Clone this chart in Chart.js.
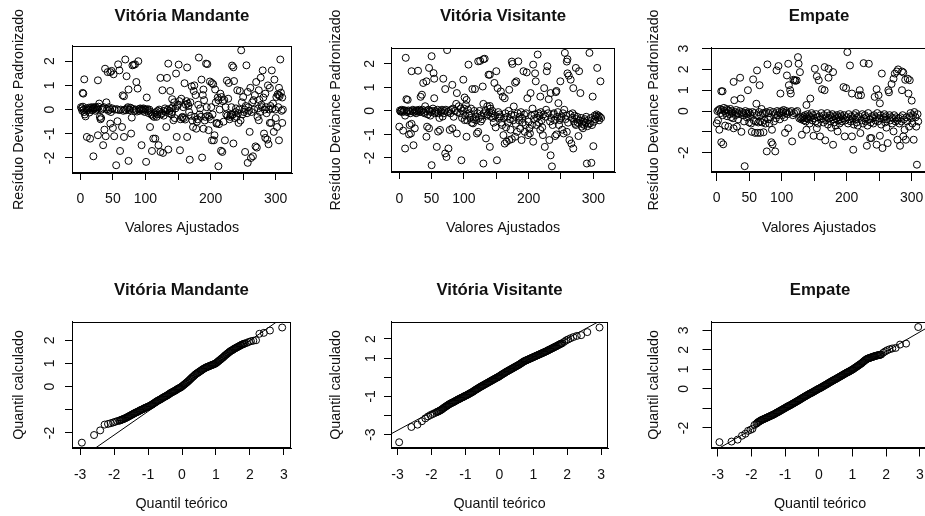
<!DOCTYPE html>
<html><head><meta charset="utf-8">
<script src="https://cdn.jsdelivr.net/npm/chart.js@4.4.1/dist/chart.umd.min.js"></script>
<style>
html,body{margin:0;padding:0;background:#fff;overflow:hidden;width:925px;height:516px;position:relative;}
canvas{position:absolute;display:block;}
</style></head><body>
<canvas id="c1" width="310" height="258" style="left:0;top:0"></canvas>
<canvas id="c2" width="310" height="258" style="left:310px;top:0"></canvas>
<canvas id="c3" width="320" height="258" style="left:620px;top:0"></canvas>
<canvas id="c4" width="310" height="258" style="left:0;top:258px"></canvas>
<canvas id="c5" width="310" height="258" style="left:310px;top:258px"></canvas>
<canvas id="c6" width="320" height="258" style="left:620px;top:258px"></canvas>
<script>
// ---------------- DATA ----------------
const panelTitles = ['Vitória Mandante', 'Vitória Visitante', 'Empate'];
const residTitleY = 'Resíduo Deviance Padronizado';
const residTitleX = 'Valores Ajustados';
const qqTitleY = 'Quantil calculado';
const qqTitleX = 'Quantil teórico';

const residXTicks = [0, 50, 100, 150, 200, 250, 300];
const residXLabels = ['0', '50', '100', '', '200', '', '300'];
const yTicks5 = [-2, -1, 0, 1, 2];
const yLabels5 = ['-2', '-1', '0', '1', '2'];
const yTicksEmp = [-2, -1, 0, 1, 2, 3];
const yLabelsEmp = ['-2', '', '0', '1', '2', '3'];
const qqXTicks = [-3, -2, -1, 0, 1, 2, 3];
const qqXLabels = ['-3', '-2', '-1', '0', '1', '2', '3'];
const qqYTicksMand = [-2, -1, 0, 1, 2];
const qqYLabelsMand = ['-2', '', '0', '1', '2'];
const qqYTicksVis = [-3, -2, -1, 0, 1, 2];
const qqYLabelsVis = ['-3', '', '-1', '', '1', '2'];

// Resíduos (índice ajustado, resíduo) - Vitória Mandante
const residuoMandante = [
[3.6,0.69],[4.5,0.66],[6,1.25],[27,1.21],[38,1.69],[42,1.55],[46,1.55],[48,1.6],[51,1.46],[58,1.87],[60,1.62],[69,2.07],[71,1.38],[65,0.59],[67,0.55],[74,0.83],[80,1.83],[82,1.85],[84,1.87],[89,2.0],[86,1.14],[88,0.87],[102,0.5],[123,1.31],[133,1.31],[135,1.9],[126,0.8],[138,0.77],[141,0.43],[147,1.49],[151,1.86],[160,1.09],[164,1.74],[171,0.96],[174,0.77],[175,1.0],[182,2.15],[186,1.24],[189,0.83],[193,1.9],[195,1.88],[190,0.39],[199,1.16],[202,1.1],[204,1.05],[207,0.83],[212,0.39],[215,0.66],[217,0.52],[225,1.2],[228,1.1],[233,1.82],[235,1.75],[236,1.18],[241,0.8],[245,0.77],[247,2.45],[250,0.52],[255,1.83],[257,0.73],[261,0.9],[266,0.39],[270,1.14],[274,0.8],[277,1.32],[280,1.62],[284,0.66],[288,1.0],[291,0.9],[294,1.62],[298,1.24],[301,0.52],[303,0.63],[305,0.6],[307,2.07],[310,0.5],[305,0.9],
[10,-1.13],[15,-1.2],[20,-1.93],[27,-1.06],[35,-1.47],[39,-1.1],[37,-0.83],[46,-0.58],[50,-0.76],[52,-1.1],[55,-2.3],[57,-0.48],[61,-1.71],[64,-0.72],[67,-1.13],[74,-2.12],[78,-0.99],[79,-0.33],[94,-1.47],[101,-2.16],[107,-0.72],[110,-1.71],[112,-1.2],[115,-1.2],[117,-0.3],[120,-1.47],[123,-1.75],[127,-1.79],[132,-0.72],[135,-1.65],[141,-0.1],[143,-0.44],[148,-1.13],[153,-1.68],[156,-0.33],[161,-0.41],[164,-1.13],[168,-2.07],[173,-0.72],[178,-0.79],[187,-1.98],[189,-0.79],[197,-0.85],[202,-1.27],[205,-1.27],[206,-1.06],[209,-0.58],[212,-2.34],[216,-1.7],[218,-1.75],[222,-1.27],[230,-0.3],[233,-0.23],[235,-1.4],[243,-0.55],[253,-1.75],[257,-2.2],[260,-0.92],[262,-2.0],[265,-1.93],[269,-1.52],[271,-1.57],[274,-0.44],[282,-0.99],[284,-1.17],[287,-1.24],[289,-1.43],[291,-0.55],[293,-0.55],[297,-0.92],[302,-0.72],[305,-1.27],[310,-0.55],
[1,0.1],[2,0.05],[3,-0.05],[4,0.12],[5,0.0],[6,-0.1],[7,-0.2],[8,-0.28],[9,0.05],[10,-0.05],[12,0.0],[13,0.08],[14,-0.12],[16,0.05],[17,0.1],[18,-0.03],[19,0.02],[20,0.07],[21,0.1],[22,0.05],[23,-0.05],[24,0.1],[25,0.0],[26,0.05],[28,0.12],[29,0.25],[30,-0.3],[31,-0.4],[32,-0.35],[33,0.0],[34,0.05],[36,0.1],[40,0.3],[41,0.02],[43,-0.05],[44,0.1],[45,0.0],[47,-0.1],[49,0.05],[53,0.0],[56,0.02],[59,-0.02],[62,0.0],[66,-0.05],[68,0.0],[70,-0.03],[72,0.05],[73,0.1],[75,-0.02],[76,0.0],[77,0.08],[81,0.03],[83,-0.05],[85,0.0],[87,-0.08],[90,0.02],[91,-0.05],[92,0.05],[93,0.0],[95,0.03],[96,-0.05],[97,0.05],[98,0.0],[99,-0.1],[100,0.0],[103,0.02],[104,-0.05],[105,-0.15],[106,0.0],[108,-0.1],[109,-0.2],[111,-0.25],[113,-0.3],[114,-0.15],[116,-0.1],[118,-0.2],[119,-0.05],[121,0.0],[122,-0.1],[124,-0.2],[125,-0.15],[128,-0.25],[129,-0.05],[130,0.05],[131,-0.1],[134,0.0],[136,-0.15],[137,-0.05],[139,0.05],[140,-0.2],[142,0.1],[144,0.3],[145,-0.35],[146,0.05],[149,0.15],
[150,0.2],[152,0.35],[154,-0.4],[155,0.45],[157,-0.3],[158,0.1],[159,-0.35],[162,0.2],[163,0.35],[165,0.25],[166,0.15],[167,-0.1],[169,0.3],[170,-0.25],[172,-0.45],[176,-0.3],[177,0.6],[179,-0.5],[180,-0.4],[181,0.2],[183,-0.2],[184,0.05],[185,-0.3],[188,0.6],[191,-0.45],[192,-0.3],[194,0.1],[196,-0.25],[198,-0.3],[200,-0.4],[201,0.1],[203,-0.2],[208,0.3],[210,-0.55],[211,0.5],[213,-0.6],[214,0.0],[219,0.35],[220,-0.5],[221,0.4],[223,0.1],[224,-0.2],[226,-0.25],[227,0.45],[229,-0.4],[231,-0.2],[232,0.1],[234,-0.2],[237,-0.35],[238,-0.1],[239,0.05],[240,-0.3],[242,-0.15],[244,0.0],[246,-0.45],[248,0.3],[249,-0.2],[251,-0.1],[252,0.0],[254,0.15],[256,-0.15],[258,0.1],[259,-0.05],[263,-0.1],[264,0.3],[267,0.0],[268,0.6],[272,-0.3],[273,0.05],[275,0.4],[276,-0.1],[278,0.2],[279,0.1],[281,0.5],[283,0.0],[285,0.1],[286,-0.15],[290,0.0],[292,0.15],[295,0.05],[296,0.25],[299,0.0],[300,-0.35],[304,0.1],[306,0.55],[308,0.7],[309,-0.05],[311,0.0]
];

// Vitória Visitante
const residuoVisitante = [
[10,2.26],[11,0.5],[13,0.47],[19,1.69],[29,1.71],[33,0.6],[35,0.69],[37,1.19],[42,1.26],[46,1.83],[50,2.33],[53,1.61],[54,1.37],[54,0.54],[68,1.37],[71,0.93],[74,2.59],[82,1.11],[89,0.76],[99,1.33],[101,0.57],[104,0.47],[107,1.97],[113,0.93],[117,0.93],[122,2.11],[125,2.13],[130,2.2],[132,2.22],[129,1.04],[130,0.3],[138,1.54],[140,1.54],[140,0.21],[147,1.19],[150,1.69],[152,0.97],[157,0.83],[160,0.61],[163,0.54],[170,0.9],[174,2.1],[175,2.0],[179,1.2],[181,1.26],[184,2.11],[177,0.19],[192,1.69],[197,1.64],[198,0.54],[203,0.76],[207,1.97],[210,1.6],[211,1.26],[214,2.4],[218,0.61],[224,0.97],[228,1.69],[229,1.9],[231,0.5],[234,0.76],[242,0.8],[243,0.85],[246,0.33],[249,1.26],[256,2.47],[259,2.1],[260,2.2],[260,1.6],[262,1.5],[265,1.33],[269,0.97],[273,1.83],[278,1.69],[280,0.76],[294,2.47],[299,0.61],[306,1.83],[311,1.26],
[0,-0.67],[6,-0.84],[9,-1.6],[15,-1.0],[18,-0.96],[22,-1.46],[16,-0.6],[19,-0.55],[24,-0.74],[42,-1.1],[43,-0.67],[46,-0.74],[50,-2.31],[58,-1.53],[60,-0.88],[63,-0.81],[67,-0.24],[71,-1.81],[73,-1.96],[76,-1.6],[78,-0.81],[82,-0.74],[89,-0.96],[96,-2.1],[101,-0.39],[104,-1.1],[109,-0.1],[114,-0.53],[120,-0.96],[122,-0.89],[130,-2.24],[134,-1.17],[140,-1.53],[151,-2.1],[156,-0.24],[159,-0.6],[161,-1.03],[163,-1.39],[166,-1.31],[170,-1.24],[174,-1.2],[179,-1.1],[182,-0.89],[189,-1.24],[194,-0.89],[199,-1.03],[202,-0.96],[207,-1.31],[212,-0.6],[218,-0.81],[222,-1.03],[225,-1.53],[232,-1.24],[234,-1.89],[236,-2.36],[241,-1.07],[243,-1.0],[248,-0.39],[251,-0.24],[254,-0.96],[259,-0.89],[263,-1.24],[266,-1.39],[269,-1.6],[273,-0.6],[277,-1.07],[282,-0.67],[284,-0.74],[290,-2.24],[297,-2.21],[300,-1.5],[295,-0.53],[298,-0.6],[301,-0.46],
[1,0.02],[2,-0.03],[3,0.0],[4,0.05],[5,-0.05],[7,0.0],[8,0.03],[9,-0.2],[11,0.0],[12,-0.05],[14,0.02],[16,-0.02],[17,-0.1],[20,0.0],[21,0.05],[23,-0.05],[25,0.0],[26,-0.1],[27,0.03],[28,-0.03],[30,0.0],[31,0.05],[32,-0.05],[34,0.0],[36,0.05],[38,-0.05],[39,-0.1],[40,0.2],[41,0.0],[44,-0.15],[45,0.05],[47,0.0],[48,-0.2],[49,-0.05],[51,0.0],[52,0.1],[55,-0.1],[56,0.0],[57,-0.05],[59,0.05],[61,-0.1],[62,-0.3],[64,0.0],[65,-0.05],[66,0.05],[69,-0.1],[70,0.0],[72,0.05],[75,-0.05],[77,0.0],[79,-0.1],[80,0.05],[83,0.1],[84,-0.25],[86,0.0],[88,0.3],[90,-0.05],[92,0.2],[94,-0.1],[95,0.1],[97,-0.3],[98,0.0],[100,0.1],[102,-0.2],[103,0.25],[105,-0.4],[106,0.05],[108,-0.2],[110,-0.3],[111,0.1],[112,-0.5],[115,-0.35],[116,0.0],[118,-0.25],[119,-0.4],[121,-0.1],[123,-0.3],[124,0.0],[126,-0.45],[127,-0.2],[128,-0.35],[131,-0.1],[133,0.0],[135,-0.2],[136,0.2],[137,-0.15],[139,-0.05],[141,0.1],[142,-0.25],[143,-0.1],[144,0.0],[145,-0.3],[146,-0.5],[148,-0.2],[149,-0.7],[153,-0.05],[154,-0.3],[155,-0.15],[158,-0.5],[162,-0.3],[164,-0.1],[165,-0.7],[167,-0.25],[168,-0.5],[169,0.0],[171,-0.35],[172,-0.8],[173,-0.15],[176,-0.4],[178,-0.2],[180,-0.55],[183,-0.1],[185,-0.4],[186,-0.25],[187,-0.75],[188,-0.05],[190,-0.3],[191,-0.5],[193,-0.15],[195,-0.6],[196,-0.1],[200,-0.45],[201,-0.75],[204,-0.2],[205,-0.6],[206,0.1],[208,-0.35],[209,-0.15],[213,-0.3],[215,-0.1],[216,-0.5],[217,-0.2],[219,-0.05],[220,-0.4],[221,-0.7],[223,-0.15],[226,-0.25],[227,0.05],[230,-0.1],[233,-0.45],[235,-0.3],[237,-0.6],[238,-0.15],[239,-0.1],[240,-0.4],[244,-0.25],[245,-0.05],[247,-0.6],[250,-0.3],[252,-0.8],[253,-0.1],[255,0.05],[257,-0.35],[258,-0.2],[261,-0.5],[264,-0.15],[267,-0.3],[268,-0.1],[270,-0.45],[271,-0.2],[272,-0.55],[274,-0.35],[275,-0.25],[276,-0.5],[279,-0.4],[281,-0.3],[283,-0.55],[285,-0.45],[286,-0.6],[287,-0.35],[288,-0.5],[289,-0.25],[291,-0.65],[292,-0.4],[293,-0.55],[296,-0.3],[302,-0.2],[303,-0.35],[304,-0.25],[305,-0.15],[307,-0.3],[308,-0.2],[309,-0.4],[310,-0.25],[312,-0.3]
];

// Empate
const residuoEmpate = [
[7,0.95],[9,0.95],[26,1.4],[27,0.52],[36,1.6],[37,0.6],[48,1.0],[56,1.52],[62,1.95],[66,1.24],[78,2.24],[95,2.16],[92,1.95],[98,0.84],[108,1.71],[110,2.27],[111,1.24],[113,1.0],[114,0.84],[118,1.5],[120,1.48],[121,1.45],[123,1.47],[125,2.59],[126,2.27],[128,1.87],[138,0.29],[144,0.6],[151,2.03],[154,1.67],[157,1.48],[162,1.05],[166,1.0],[166,2.11],[172,2.03],[172,1.6],[179,1.87],[201,2.83],[195,1.15],[199,1.1],[205,2.19],[208,0.84],[218,0.76],[220,1.0],[222,0.76],[226,2.3],[234,2.27],[243,0.68],[246,1.05],[249,0.76],[251,0.37],[254,1.8],[264,1.0],[265,0.9],[269,1.3],[272,1.55],[274,1.8],[277,1.9],[279,2.0],[285,1.9],[287,1.85],[290,1.5],[294,1.55],[285,1.0],[295,0.84],[297,1.48],[300,0.5],
[0,-0.59],[4,-0.9],[7,-1.5],[10,-1.6],[13,-0.7],[18,-0.75],[26,-0.83],[31,-0.75],[43,-2.65],[38,-1.0],[54,-1.0],[59,-1.05],[63,-1.05],[67,-1.05],[72,-1.02],[77,-1.94],[84,-1.5],[86,-1.6],[90,-1.94],[85,-0.9],[105,-1.05],[110,-0.83],[116,-1.46],[131,-1.14],[138,-0.9],[149,-1.19],[154,-0.83],[159,-1.22],[167,-1.41],[179,-1.62],[186,-0.98],[197,-1.22],[208,-1.22],[210,-1.86],[221,-1.06],[231,-1.67],[236,-1.3],[238,-1.3],[246,-1.62],[251,-1.19],[255,-1.78],[263,-1.54],[272,-0.98],[278,-1.38],[282,-1.67],[287,-1.22],[291,-1.38],[296,-0.75],[303,-1.38],[308,-2.58],[307,-0.75],
[1,0.0],[2,-0.45],[3,0.05],[5,0.1],[6,-0.1],[8,0.05],[9,-0.2],[11,0.15],[12,0.0],[14,-0.1],[15,0.1],[16,-0.25],[17,0.05],[19,0.0],[20,-0.15],[21,0.1],[22,-0.3],[23,0.0],[24,-0.1],[25,-0.35],[28,-0.05],[29,-0.2],[30,0.05],[32,-0.1],[33,-0.4],[34,-0.15],[35,0.0],[39,-0.05],[40,-0.2],[41,-0.1],[42,-0.5],[44,0.0],[45,-0.1],[46,-0.3],[47,-0.15],[49,-0.05],[50,-0.55],[51,-0.1],[52,-0.2],[53,-0.6],[55,-0.05],[57,-0.45],[58,-0.1],[60,-0.5],[61,0.35],[62,-0.2],[64,-0.55],[65,-0.05],[67,-0.5],[68,-0.2],[69,0.1],[70,-0.55],[71,-0.1],[73,-0.45],[74,-0.1],[75,-0.6],[76,-0.05],[79,-0.4],[80,-0.1],[81,-0.6],[82,0.0],[83,-0.3],[87,-0.05],[88,-0.5],[89,-0.15],[91,-0.35],[93,0.0],[94,-0.2],[96,-0.05],[97,-0.4],[99,-0.1],[100,0.0],[101,-0.2],[102,-0.05],[103,0.05],[104,-0.3],[106,-0.1],[107,0.0],[109,-0.15],[112,-0.05],[115,0.0],[117,-0.2],[119,-0.1],[122,-0.05],[124,0.0],[127,-0.35],[129,-0.3],[130,-0.4],[132,-0.35],[133,-0.25],[134,-0.45],[135,-0.3],[136,-0.2],[137,-0.5],[139,-0.35],[140,-0.15],[141,-0.4],[142,-0.25],[143,-0.6],[145,-0.3],[146,-0.1],[147,-0.45],[148,-0.2],[150,-0.35],[152,-0.5],[153,-0.15],[155,-0.3],[156,-0.6],[158,-0.25],[160,-0.4],[161,-0.1],[163,-0.35],[164,-0.55],[165,-0.2],[168,-0.45],[169,-0.3],[170,-0.1],[171,-0.65],[173,-0.35],[174,-0.2],[175,-0.5],[176,-0.8],[177,-0.3],[178,-0.15],[180,-0.4],[181,-0.55],[182,-0.25],[183,-0.7],[184,-0.35],[185,-0.2],[187,-0.45],[188,-0.3],[189,-0.6],[190,-0.15],[191,-0.4],[192,-0.25],[193,-0.5],[194,-0.35],[196,-0.2],[198,-0.45],[200,-0.3],[202,-0.6],[203,-0.15],[204,-0.4],[206,-0.5],[207,-0.25],[209,-0.35],[211,-0.65],[212,-0.2],[213,-0.4],[214,-0.1],[215,-0.55],[216,-0.3],[217,-0.7],[219,-0.25],[223,-0.45],[224,-0.15],[225,-0.6],[227,-0.35],[228,-0.2],[229,-0.5],[230,-0.3],[232,-0.7],[233,-0.1],[235,-0.4],[237,-0.55],[239,-0.25],[240,-0.35],[241,-0.6],[242,-0.2],[244,-0.45],[245,-0.3],[247,-0.1],[248,-0.5],[250,-0.35],[252,-0.2],[253,-0.65],[256,-0.4],[257,-0.3],[258,-0.15],[259,-0.55],[260,-0.25],[261,-0.8],[262,-0.4],[266,-0.2],[267,-0.45],[268,-0.3],[270,-0.6],[271,-0.35],[273,-0.2],[275,-0.5],[276,-0.3],[278,-0.45],[280,-0.35],[281,-0.6],[283,-0.3],[284,-0.5],[286,-0.2],[288,-0.4],[289,-0.9],[292,-0.3],[293,-0.5],[297,-0.25],[298,-0.1],[299,-0.35],[301,-0.6],[302,-0.2],[304,-0.05],[306,-0.3],[309,-0.15],[310,-0.5]
];

// Normal Q-Q: theoretical quantiles (shared) and sample quantiles per model
const quantilTeorico = [
-2.95,-2.59,-2.41,-2.28,-2.18,-2.10,-2.03,-1.97,-1.91,
-1.850,-1.825,-1.800,-1.775,-1.750,-1.725,-1.700,-1.675,
-1.650,-1.625,-1.600,-1.575,-1.550,-1.525,-1.500,-1.475,
-1.450,-1.425,-1.400,-1.375,-1.350,-1.325,-1.300,-1.275,
-1.250,-1.225,-1.200,-1.175,-1.150,-1.125,-1.100,-1.075,
-1.050,-1.025,-1.000,-0.975,-0.950,-0.925,-0.900,-0.875,
-0.850,-0.825,-0.800,-0.775,-0.750,-0.725,-0.700,-0.675,
-0.650,-0.625,-0.600,-0.575,-0.550,-0.525,-0.500,-0.475,
-0.450,-0.425,-0.400,-0.375,-0.350,-0.325,-0.300,-0.275,
-0.250,-0.225,-0.200,-0.175,-0.150,-0.125,-0.100,-0.075,
-0.050,-0.025,0.000,0.025,0.050,0.075,0.100,0.125,
0.150,0.175,0.200,0.225,0.250,0.275,0.300,0.325,
0.350,0.375,0.400,0.425,0.450,0.475,0.500,0.525,
0.550,0.575,0.600,0.625,0.650,0.675,0.700,0.725,
0.750,0.775,0.800,0.825,0.850,0.875,0.900,0.925,
0.950,0.975,1.000,1.025,1.050,1.075,1.100,1.125,
1.150,1.175,1.200,1.225,1.250,1.275,1.300,1.325,
1.350,1.375,1.400,1.425,1.450,1.475,1.500,1.525,
1.550,1.575,1.600,1.625,1.650,1.675,1.700,1.725,
1.750,1.775,1.800,1.825,1.850,
1.91,1.97,2.03,2.10,2.18,2.28,2.41,2.59,2.95];
const quantilMandante = [
-2.42,-2.09,-1.89,-1.64,-1.61,-1.58,-1.55,-1.52,-1.49,
-1.47,-1.46,-1.44,-1.43,-1.41,-1.40,-1.38,-1.37,
-1.35,-1.33,-1.31,-1.29,-1.27,-1.25,-1.23,-1.21,
-1.19,-1.17,-1.15,-1.13,-1.11,-1.10,-1.08,-1.06,
-1.04,-1.02,-1.00,-0.99,-0.97,-0.95,-0.93,-0.91,
-0.90,-0.88,-0.87,-0.85,-0.83,-0.81,-0.79,-0.77,
-0.74,-0.72,-0.69,-0.67,-0.64,-0.62,-0.60,-0.58,
-0.56,-0.54,-0.52,-0.49,-0.47,-0.45,-0.43,-0.41,
-0.39,-0.37,-0.34,-0.32,-0.29,-0.27,-0.25,-0.23,
-0.21,-0.19,-0.17,-0.15,-0.12,-0.10,-0.08,-0.06,
-0.04,-0.02,0.01,0.04,0.07,0.10,0.13,0.16,
0.19,0.22,0.26,0.29,0.33,0.36,0.40,0.43,
0.46,0.50,0.53,0.56,0.58,0.61,0.63,0.66,
0.68,0.71,0.73,0.76,0.78,0.80,0.82,0.84,
0.85,0.87,0.88,0.90,0.91,0.93,0.94,0.96,
0.97,0.99,1.01,1.04,1.07,1.10,1.13,1.16,
1.19,1.22,1.25,1.28,1.32,1.35,1.38,1.41,
1.44,1.47,1.50,1.53,1.55,1.57,1.59,1.62,
1.64,1.66,1.68,1.70,1.72,1.74,1.76,1.78,
1.80,1.82,1.83,1.85,1.86,
1.89,1.93,1.96,1.98,2.00,2.28,2.32,2.42,2.55];
const quantilVisitante = [
-3.40,-2.60,-2.48,-2.30,-2.15,-2.05,-1.98,-1.93,-1.88,
-1.83,-1.81,-1.79,-1.77,-1.74,-1.72,-1.69,-1.66,
-1.62,-1.59,-1.56,-1.53,-1.50,-1.47,-1.44,-1.41,
-1.39,-1.36,-1.34,-1.32,-1.30,-1.27,-1.25,-1.22,
-1.20,-1.17,-1.15,-1.13,-1.11,-1.08,-1.06,-1.04,
-1.02,-0.99,-0.97,-0.95,-0.93,-0.90,-0.88,-0.85,
-0.83,-0.80,-0.78,-0.75,-0.72,-0.69,-0.66,-0.63,
-0.61,-0.58,-0.55,-0.52,-0.50,-0.47,-0.45,-0.42,
-0.40,-0.37,-0.35,-0.32,-0.30,-0.27,-0.25,-0.22,
-0.20,-0.17,-0.15,-0.12,-0.10,-0.07,-0.05,-0.02,
0.00,0.02,0.05,0.08,0.11,0.14,0.17,0.19,
0.22,0.25,0.28,0.30,0.33,0.35,0.38,0.40,
0.43,0.45,0.48,0.50,0.53,0.55,0.58,0.60,
0.63,0.65,0.68,0.71,0.74,0.77,0.80,0.83,
0.85,0.87,0.89,0.91,0.93,0.95,0.97,0.99,
1.01,1.03,1.05,1.07,1.09,1.11,1.13,1.15,
1.17,1.19,1.21,1.23,1.25,1.27,1.29,1.31,
1.33,1.35,1.37,1.40,1.42,1.44,1.46,1.49,
1.51,1.53,1.55,1.58,1.60,1.62,1.64,1.67,
1.69,1.72,1.74,1.76,1.78,
1.85,1.93,1.98,2.04,2.10,2.16,2.20,2.36,2.60];
const quantilEmpate = [
-2.73,-2.70,-2.60,-2.40,-2.30,-2.15,-2.10,-2.05,-1.85,
-1.78,-1.74,-1.70,-1.68,-1.65,-1.62,-1.60,-1.58,
-1.56,-1.54,-1.52,-1.50,-1.48,-1.46,-1.44,-1.42,
-1.40,-1.38,-1.36,-1.34,-1.32,-1.30,-1.27,-1.25,
-1.22,-1.20,-1.18,-1.15,-1.13,-1.10,-1.08,-1.05,
-1.03,-1.00,-0.98,-0.95,-0.93,-0.90,-0.88,-0.86,
-0.84,-0.81,-0.79,-0.76,-0.74,-0.71,-0.69,-0.66,
-0.64,-0.61,-0.59,-0.56,-0.53,-0.51,-0.48,-0.45,
-0.43,-0.40,-0.38,-0.35,-0.33,-0.30,-0.28,-0.25,
-0.23,-0.21,-0.19,-0.16,-0.14,-0.11,-0.09,-0.06,
-0.04,-0.01,0.01,0.03,0.05,0.08,0.10,0.13,
0.15,0.18,0.20,0.23,0.25,0.28,0.31,0.33,
0.36,0.38,0.41,0.43,0.46,0.48,0.50,0.53,
0.55,0.58,0.60,0.63,0.65,0.68,0.70,0.73,
0.75,0.78,0.80,0.83,0.85,0.87,0.89,0.92,
0.94,0.97,0.99,1.02,1.05,1.08,1.11,1.14,
1.17,1.20,1.23,1.26,1.29,1.32,1.36,1.40,
1.43,1.47,1.50,1.53,1.55,1.57,1.58,1.60,
1.61,1.63,1.64,1.66,1.67,1.69,1.70,1.71,
1.72,1.73,1.74,1.75,1.76,
1.85,1.92,1.98,2.03,2.07,2.10,2.27,2.32,3.17];

// qqline end points (x, y)
const qqLineX = [-3.5, 3.5];
const qqLineMandante = [-3.62, 3.52];
const qqLineVisitante = [-3.26, 3.46];
const qqLineEmpate = [-3.58, 3.42];

// ---------------- DRAWING ----------------
const FF = "'Liberation Sans', Arial, Helvetica, sans-serif";
const TXT = '#111';
Chart.defaults.font.family = FF;
Chart.defaults.color = TXT;

const boxPlugin = {
  id: 'rbox',
  afterDatasetsDraw(chart) {
    const a = chart.chartArea, ctx = chart.ctx;
    ctx.save();
    ctx.strokeStyle = '#000';
    ctx.lineWidth = 1;
    const l = Math.round(a.left) + 0.5, t = Math.round(a.top) + 0.5;
    const r = Math.round(a.right) - 0.5, b = Math.round(a.bottom) - 0.5;
    ctx.strokeRect(l, t, r - l, b - t);
    ctx.restore();
  }
};

const pairs = arr => arr.map(p => ({x: p[0], y: p[1]}));
const zipXY = (xs, ys) => xs.map((x, i) => ({x: x, y: ys[i]}));

function panel(id, P) {
  const datasets = [{
    data: P.points, showLine: false,
    pointRadius: 3.5, pointHoverRadius: 3.5, pointBorderWidth: 1,
    pointBorderColor: '#000', pointBackgroundColor: 'rgba(0,0,0,0)'
  }];
  if (P.line) datasets.push({
    data: P.line, showLine: true, pointRadius: 0, pointHoverRadius: 0,
    borderColor: '#000', borderWidth: 1, fill: false
  });
  new Chart(document.getElementById(id), {
    type: 'scatter',
    data: {datasets},
    options: {
      responsive: false, animation: false, events: [],
      layout: {padding: {left: 0, top: 0, right: P.padR, bottom: 0}},
      plugins: {
        legend: {display: false}, tooltip: {enabled: false},
        title: {display: true, text: P.title, fullSize: false, color: TXT,
          font: {family: FF, size: 16.8, weight: 'bold', lineHeight: 1.2},
          padding: {top: P.tPT, bottom: P.tPB}}
      },
      scales: {
        x: {
          type: 'linear', position: 'bottom', min: P.xr[0], max: P.xr[1],
          afterBuildTicks: s => { s.ticks = P.xTicks.map(v => ({value: v})); },
          afterFit: s => { s.height = P.xH; },
          ticks: {autoSkip: false, maxRotation: 0, minRotation: 0, padding: P.xLabPad,
            color: TXT, font: {family: FF, size: 14}, callback: (v, i) => P.xLabels[i]},
          grid: {display: true, drawOnChartArea: false, drawTicks: true, tickLength: P.tick, color: '#000', lineWidth: 1},
          border: {display: true, color: '#000', width: 1},
          title: {display: true, text: P.xTitle, color: TXT, font: {family: FF, size: 14.3, lineHeight: 1.2},
            padding: {top: 0, bottom: P.xTitlePad}}
        },
        y: {
          type: 'linear', position: 'left', min: P.yr[0], max: P.yr[1],
          afterBuildTicks: s => { s.ticks = P.yTicks.map(v => ({value: v})); },
          afterFit: s => { s.width = P.yW; },
          ticks: {autoSkip: false, minRotation: 90, maxRotation: 90, crossAlign: 'center', padding: P.yLabPad,
            color: TXT, font: {family: FF, size: 14}, callback: (v, i) => P.yLabels[i]},
          grid: {display: true, drawOnChartArea: false, drawTicks: true, tickLength: P.tick, color: '#000', lineWidth: 1},
          border: {display: true, color: '#000', width: 1},
          title: {display: true, text: P.yTitle, color: TXT, font: {family: FF, size: 14.3, lineHeight: 1.2},
            padding: {top: P.yTitlePad, bottom: 0}}
        }
      }
    },
    plugins: [boxPlugin]
  });
}

const topRow = {tPT: 5.8, tPB: 20.0, xH: 85, xTitlePad: 20.9, xTitle: residTitleX, yTitle: residTitleY, xTicks: residXTicks, xLabels: residXLabels};
const botRow = {tPT: 22.6, tPB: 21.2, xH: 68, xTitlePad: 2.9, xTitle: qqTitleX, yTitle: qqTitleY, xTicks: qqXTicks, xLabels: qqXLabels};

panel('c1', Object.assign({}, topRow, {title: panelTitles[0], points: pairs(residuoMandante),
  yW: 72, padR: 18, yTitlePad: 10, tick: 7, xLabPad: 11, yLabPad: 8.8,
  xr: [-12.8, 325], yr: [-2.62, 2.63], yTicks: yTicks5, yLabels: yLabels5}));
panel('c2', Object.assign({}, topRow, {title: panelTitles[1], points: pairs(residuoVisitante), tPB: 22.0, xH: 86,
  yW: 81, padR: 5, yTitlePad: 17.4, tick: 7, xLabPad: 11.3, yLabPad: 7.8,
  xr: [-12.8, 333.5], yr: [-2.6, 2.68], yTicks: yTicks5, yLabels: yLabels5}));
panel('c3', Object.assign({}, topRow, {title: panelTitles[2], points: pairs(residuoEmpate), tPB: 22.0, xH: 86,
  yW: 91, padR: 13, yTitlePad: 25.4, tick: 9, xLabPad: 8.6, yLabPad: 12,
  xr: [-8.8, 323.5], yr: [-2.93, 3.03], yTicks: yTicksEmp, yLabels: yLabelsEmp}));
panel('c4', Object.assign({}, botRow, {title: panelTitles[0], points: zipXY(quantilTeorico, quantilMandante),
  line: zipXY(qqLineX, qqLineMandante),
  yW: 72, padR: 19, yTitlePad: 10, tick: 7, xLabPad: 11.3, yLabPad: 8.8,
  xr: [-3.24, 3.21], yr: [-2.65, 2.79], yTicks: qqYTicksMand, yLabels: qqYLabelsMand}));
panel('c5', Object.assign({}, botRow, {title: panelTitles[1], points: zipXY(quantilTeorico, quantilVisitante),
  line: zipXY(qqLineX, qqLineVisitante),
  yW: 81, padR: 12, yTitlePad: 17.4, tick: 7, xLabPad: 11.3, yLabPad: 6.5,
  xr: [-3.19, 3.2], yr: [-3.7, 2.89], yTicks: qqYTicksVis, yLabels: qqYLabelsVis}));
panel('c6', Object.assign({}, botRow, {title: panelTitles[2], points: zipXY(quantilTeorico, quantilEmpate),
  line: zipXY(qqLineX, qqLineEmpate),
  yW: 91, padR: 11, yTitlePad: 25.4, tick: 8.5, xLabPad: 9.8, yLabPad: 12,
  xr: [-3.2, 3.27], yr: [-3.03, 3.43], yTicks: yTicksEmp, yLabels: yLabelsEmp}));
</script>
</body></html>
